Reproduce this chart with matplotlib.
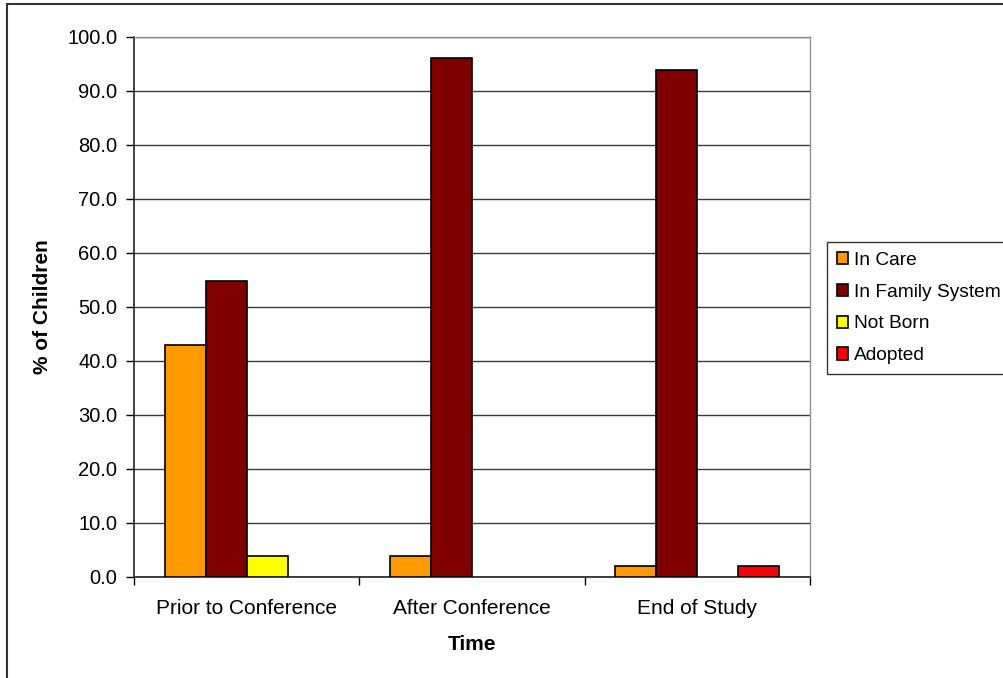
import matplotlib
matplotlib.use("Agg")
import matplotlib.pyplot as plt
from matplotlib.lines import Line2D
from matplotlib.patches import Patch
import numpy as np

plt.rcParams['font.family'] = ['Liberation Sans', 'DejaVu Sans']

categories = ['Prior to Conference', 'After Conference', 'End of Study']
series_names = ['In Care', 'In Family System', 'Not Born', 'Adopted']
in_care = [43.0, 3.9, 2.0]
in_family = [54.8, 96.1, 93.9]
not_born = [3.9, 0.0, 0.0]
adopted = [0.0, 0.0, 2.0]
series_values = [in_care, in_family, not_born, adopted]
colors = ['#FF9900', '#800000', '#FFFF00', '#FF0000']
y_ticks = np.arange(0, 101, 10)

W, H = 1004, 678
fig = plt.figure(figsize=(W / 100, H / 100), dpi=100)
ax = fig.add_axes([134 / W, 1 - 577 / H, (810 - 134) / W, (577 - 37) / H])

x = np.arange(len(categories))
n = len(series_values)
width = 1 / (n + 1.5)
for i, (vals, col) in enumerate(zip(series_values, colors)):
    offs = (i - (n - 1) / 2) * width
    bars = ax.bar(x + offs, vals, width, color=col, edgecolor='black',
                  linewidth=1.2, zorder=3)
    # empty bars leave no outline
    for b, v in zip(bars, vals):
        if v == 0:
            b.set_linewidth(0)

ax.set_xlim(-0.5, len(categories) - 0.5)
ax.set_ylim(0, 100)
ax.set_yticks(y_ticks)
ax.set_yticklabels([f'{v:.1f}' for v in y_ticks], fontsize=14.5)
ax.yaxis.grid(True, color='#3a3a3a', linewidth=1, zorder=0)

# category labels centred, tick marks at group boundaries
ax.set_xticks(x)
ax.set_xticklabels(categories, fontsize=15)
ax.tick_params(axis='x', which='major', length=0, pad=16)
ax.set_xticks(np.arange(-0.5, len(categories), 1), minor=True)
ax.tick_params(axis='x', which='minor', length=6, width=1, direction='out')
ax.tick_params(axis='y', length=6, width=1, direction='out', pad=6)

for side in ['left', 'bottom']:
    ax.spines[side].set_color('#222222')
    ax.spines[side].set_linewidth(1.2)
for side in ['top', 'right']:
    ax.spines[side].set_color('#909090')
    ax.spines[side].set_linewidth(1)

fig.text(43 / W, 1 - 307 / H, '% of Children', rotation=90, fontsize=15,
         fontweight='bold', ha='center', va='center')
fig.text(472 / W, 1 - 645 / H, 'Time', fontsize=15, fontweight='bold',
         ha='center', va='center')

handles = [Patch(facecolor=c, edgecolor='black', linewidth=1.2) for c in colors]
leg = fig.legend(handles, series_names, loc='upper left',
                 bbox_to_anchor=(827 / W, 1 - 242 / H),
                 fontsize=13.8, frameon=True, fancybox=False,
                 handlelength=0.62, handleheight=0.62, handletextpad=0.3,
                 labelspacing=0.78, borderpad=0.5, borderaxespad=0)
leg.get_frame().set_edgecolor('black')
leg.get_frame().set_linewidth(1)

# outer chart border
fig.add_artist(Line2D([7 / W, 7 / W], [0, 1 - 4 / H], color='#333333',
                      linewidth=1.5, transform=fig.transFigure))
fig.add_artist(Line2D([7 / W, 1], [1 - 4 / H, 1 - 4 / H], color='#333333',
                      linewidth=1.5, transform=fig.transFigure))

fig.savefig('out.png', dpi=100)
